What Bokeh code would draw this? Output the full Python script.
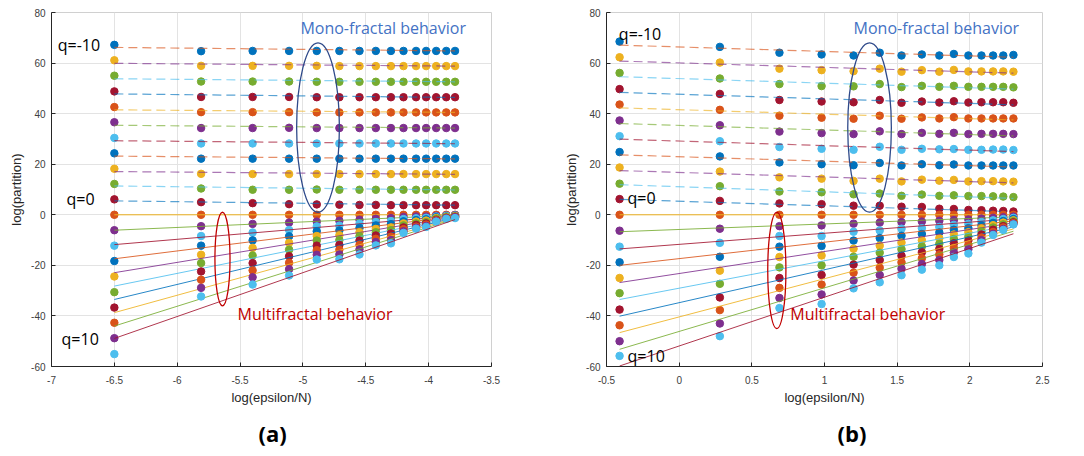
from bokeh.plotting import figure
from bokeh.layouts import row
from bokeh.models import Range1d, FixedTicker, CustomJSTickFormatter, Title
from bokeh.core.properties import value
from bokeh.embed import file_html
from bokeh.resources import INLINE

# ---------------- data ----------------
q_values = list(range(-10, 11))

# panel (a): x positions
xa = [-6.50, -5.81, -5.40, -5.11, -4.89, -4.71, -4.55, -4.42, -4.30, -4.20, -4.10, -4.02, -3.94, -3.86, -3.79]
a_qm10 = [67.2, 64.7, 64.8, 64.8, 64.8, 64.8, 64.8, 64.8, 64.8, 64.8, 64.8, 64.8, 64.8, 64.8, 64.8]
a_qm9 = [61.1, 58.9, 58.9, 58.9, 58.9, 58.8, 58.8, 58.8, 58.8, 58.8, 58.8, 58.8, 58.8, 58.8, 58.8]
a_qm8 = [55.0, 52.7, 52.7, 52.7, 52.6, 52.6, 52.6, 52.6, 52.6, 52.6, 52.6, 52.6, 52.6, 52.6, 52.6]
a_qm7 = [48.8, 46.6, 46.6, 46.6, 46.5, 46.5, 46.5, 46.5, 46.5, 46.5, 46.5, 46.5, 46.5, 46.5, 46.5]
a_qm6 = [42.6, 40.6, 40.6, 40.6, 40.5, 40.5, 40.5, 40.5, 40.5, 40.5, 40.5, 40.5, 40.5, 40.5, 40.5]
a_qm5 = [36.6, 34.3, 34.3, 34.4, 34.3, 34.3, 34.3, 34.3, 34.3, 34.3, 34.3, 34.3, 34.3, 34.3, 34.3]
a_qm4 = [30.4, 28.2, 28.2, 28.2, 28.2, 28.2, 28.2, 28.2, 28.2, 28.2, 28.2, 28.2, 28.2, 28.2, 28.2]
a_qm3 = [24.3, 22.2, 22.2, 22.2, 22.2, 22.2, 22.2, 22.2, 22.2, 22.2, 22.2, 22.2, 22.2, 22.2, 22.2]
a_qm2 = [18.2, 16.2, 16.1, 16.1, 16.1, 16.1, 16.1, 16.1, 16.1, 16.1, 16.1, 16.1, 16.1, 16.1, 16.1]
a_qm1 = [12.2, 10.4, 9.9, 9.9, 10.0, 9.9, 9.9, 9.9, 9.9, 9.9, 9.9, 9.9, 9.9, 9.9, 9.9]
a_q0 = [6.1, 5.0, 4.6, 4.2, 4.1, 4.0, 3.9, 3.9, 3.8, 3.8, 3.8, 3.8, 3.8, 3.8, 3.8]
a_q1 = [0.0, 0.0, 0.0, 0.0, 0.0, 0.0, 0.0, 0.0, 0.0, 0.0, 0.0, 0.0, 0.0, 0.0, 0.0]
a_q2 = [-6.1, -4.5, -3.6, -3.1, -2.7, -2.4, -2.0, -1.6, -1.3, -0.9, -0.7, -0.7, -0.4, -0.3, -0.1]
a_q3 = [-12.2, -8.4, -7.0, -6.0, -4.6, -4.3, -3.5, -2.9, -2.5, -1.7, -1.4, -1.2, -0.7, -0.4, -0.3]
a_q4 = [-18.3, -12.2, -10.1, -8.5, -6.5, -6.2, -5.2, -4.2, -3.7, -2.6, -2.1, -1.8, -1.0, -0.7, -0.4]
a_q5 = [-24.4, -15.8, -13.1, -11.1, -8.4, -8.1, -6.9, -5.6, -5.0, -3.4, -2.7, -2.3, -1.3, -0.8, -0.5]
a_q6 = [-30.6, -19.1, -16.1, -13.8, -10.2, -10.0, -8.5, -6.9, -6.1, -4.2, -3.4, -2.9, -1.6, -1.0, -0.7]
a_q7 = [-36.7, -22.4, -19.1, -16.4, -12.2, -11.9, -10.2, -8.2, -7.4, -5.0, -4.0, -3.4, -2.0, -1.2, -0.8]
a_q8 = [-42.7, -25.7, -22.0, -19.0, -14.0, -13.8, -11.9, -9.5, -8.7, -5.7, -4.7, -3.9, -2.2, -1.3, -0.9]
a_q9 = [-48.8, -28.9, -24.7, -21.5, -15.8, -15.7, -13.7, -10.8, -10.0, -6.5, -5.1, -4.4, -2.5, -1.4, -1.0]
a_q10 = [-55.1, -32.3, -27.6, -24.0, -17.7, -17.6, -15.7, -12.1, -11.3, -7.2, -5.5, -4.8, -2.7, -1.6, -1.3]
# fitted line values at first / last x (panel a)
a_fit_start = [66.2, 59.9, 53.8, 47.8, 41.5, 35.4, 29.3, 23.2, 17.1, 11.4, 5.5, 0.0,
               -6.1, -11.8, -17.4, -22.9, -28.2, -33.5, -38.7, -44.0, -48.9]
a_fit_end = [64.8, 58.8, 52.6, 46.4, 40.5, 34.3, 28.1, 22.1, 16.0, 9.8, 3.8, 0.0,
             -0.2, -0.4, -0.6, -0.8, -1.0, -1.2, -1.4, -1.6, -1.9]

# panel (b): x positions
xb = [-0.41, 0.28, 0.69, 0.98, 1.20, 1.38, 1.53, 1.67, 1.79, 1.89, 1.99, 2.08, 2.16, 2.23, 2.30]
b_qm10 = [68.5, 66.4, 64.1, 63.4, 63.0, 64.1, 63.0, 63.4, 63.0, 63.6, 63.0, 63.0, 63.0, 63.0, 63.2]
b_qm9 = [62.3, 60.2, 57.8, 57.2, 56.8, 57.8, 56.6, 57.2, 56.6, 57.3, 56.7, 56.7, 56.7, 56.7, 56.6]
b_qm8 = [56.1, 53.9, 51.7, 50.9, 50.8, 51.7, 50.5, 51.0, 50.6, 51.0, 50.6, 50.6, 50.6, 50.6, 50.4]
b_qm7 = [49.7, 47.8, 45.4, 44.8, 44.5, 45.4, 44.3, 44.8, 44.4, 44.9, 44.4, 44.5, 44.5, 44.5, 44.3]
b_qm6 = [43.6, 41.5, 39.2, 38.4, 38.0, 39.2, 38.0, 38.5, 38.1, 38.6, 38.1, 38.1, 38.1, 38.1, 38.1]
b_qm5 = [37.3, 35.4, 32.9, 32.3, 31.9, 33.0, 31.9, 32.4, 32.0, 32.4, 31.9, 32.0, 32.0, 32.0, 31.9]
b_qm4 = [31.1, 29.1, 26.8, 26.1, 25.7, 26.9, 25.7, 26.1, 25.9, 26.0, 25.7, 25.7, 25.8, 25.8, 25.6]
b_qm3 = [24.8, 23.1, 20.7, 20.0, 19.6, 20.5, 19.5, 20.0, 19.6, 19.9, 19.5, 19.5, 19.5, 19.5, 19.5]
b_qm2 = [18.7, 17.1, 14.8, 14.3, 13.4, 14.3, 13.2, 13.9, 13.5, 13.8, 13.2, 13.3, 13.3, 13.2, 13.1]
b_qm1 = [12.3, 11.3, 9.2, 8.9, 8.1, 8.4, 7.5, 8.0, 7.5, 7.7, 7.4, 7.4, 7.3, 7.2, 7.0]
b_q0 = [6.2, 5.5, 4.5, 4.2, 3.6, 3.6, 3.2, 3.1, 2.4, 2.3, 1.9, 1.8, 1.6, 1.5, 1.3]
b_q1 = [0.0, 0.0, 0.0, 0.0, 0.0, 0.0, 0.0, 0.0, 0.0, 0.0, 0.0, 0.0, 0.0, 0.0, 0.0]
b_q2 = [-6.3, -5.5, -4.5, -4.2, -3.5, -3.1, -2.9, -2.7, -2.4, -2.1, -1.9, -1.5, -1.2, -1.0, -0.7]
b_q3 = [-12.6, -11.1, -8.4, -8.4, -6.7, -6.2, -5.5, -5.3, -4.8, -4.0, -3.6, -2.9, -2.2, -1.7, -1.2]
b_q4 = [-18.8, -16.6, -12.6, -12.3, -10.2, -9.2, -8.3, -7.6, -7.0, -5.9, -5.3, -4.2, -3.2, -2.5, -1.7]
b_q5 = [-25.0, -22.1, -16.7, -16.1, -13.4, -12.2, -11.0, -10.1, -9.3, -7.8, -6.9, -5.4, -4.1, -3.1, -2.2]
b_q6 = [-31.0, -27.3, -20.8, -20.0, -16.6, -15.0, -13.6, -12.5, -11.5, -9.6, -8.6, -6.6, -5.0, -3.8, -2.6]
b_q7 = [-37.5, -32.7, -25.0, -23.8, -19.7, -17.9, -16.2, -14.8, -13.5, -11.3, -10.2, -7.8, -5.9, -4.5, -3.0]
b_q8 = [-43.7, -37.7, -28.9, -27.6, -22.9, -20.9, -18.8, -17.2, -15.7, -13.1, -11.9, -9.0, -6.8, -5.0, -3.3]
b_q9 = [-50.0, -43.0, -32.9, -31.5, -26.0, -23.8, -21.3, -19.5, -17.9, -14.9, -13.6, -10.0, -7.5, -5.6, -3.6]
b_q10 = [-55.8, -48.0, -36.9, -35.3, -29.1, -26.7, -23.9, -21.7, -20.0, -16.7, -15.3, -11.0, -8.0, -6.0, -3.8]
b_fit_start = [67.1, 60.8, 54.6, 48.4, 42.3, 36.1, 29.9, 23.7, 17.5, 11.9, 6.1, 0.0,
               -6.7, -13.5, -20.0, -26.8, -33.5, -40.1, -46.6, -53.2, -59.8]
b_fit_end = [62.3, 56.0, 49.7, 43.5, 37.5, 31.2, 25.0, 18.9, 12.6, 6.5, 1.2, 0.0,
             -0.8, -1.6, -2.4, -3.2, -4.0, -4.8, -5.6, -6.5, -7.5]

a_ticks_x = [-7, -6.5, -6, -5.5, -5, -4.5, -4, -3.5]
b_ticks_x = [-0.5, 0, 0.5, 1, 1.5, 2, 2.5]
ticks_y = [-60, -40, -20, 0, 20, 40, 60, 80]

a_series = [a_qm10, a_qm9, a_qm8, a_qm7, a_qm6, a_qm5, a_qm4, a_qm3, a_qm2, a_qm1, a_q0,
            a_q1, a_q2, a_q3, a_q4, a_q5, a_q6, a_q7, a_q8, a_q9, a_q10]
b_series = [b_qm10, b_qm9, b_qm8, b_qm7, b_qm6, b_qm5, b_qm4, b_qm3, b_qm2, b_qm1, b_q0,
            b_q1, b_q2, b_q3, b_q4, b_q5, b_q6, b_q7, b_q8, b_q9, b_q10]

# MATLAB default color order
COLORS = ["#0072BD", "#D95319", "#EDB120", "#7E2F8E", "#77AC30", "#4DBEEE", "#A2142F"]
TXT = "Liberation Sans"
ANN = "Open Sans"


def make_panel(xs, series, fit_start, fit_end, xr, xticks, border_l, border_r, frame_w, caption,
               cap_offset, ell_blue, ell_red, mono_xy, multi_xy, qlabels):
    p = figure(width=border_l + border_r + frame_w, height=456,
               x_range=Range1d(*xr), y_range=Range1d(-60, 80),
               output_backend="svg", toolbar_location=None,
               min_border_left=border_l, min_border_right=border_r,
               min_border_top=12, min_border_bottom=86)
    p.background_fill_color = "white"
    p.border_fill_color = "white"
    p.outline_line_color = "#d0d0d0"
    p.outline_line_width = 1
    for ax in (p.xaxis[0], p.yaxis[0]):
        ax.axis_line_color = "#262626"
        ax.major_tick_line_color = "#262626"
        ax.major_tick_in = 4
        ax.major_tick_out = 0
        ax.minor_tick_line_color = None
        ax.major_label_text_font = TXT
        ax.major_label_text_font_size = "10px"
        ax.major_label_text_color = "#404040"
        ax.axis_label_text_font = TXT
        ax.axis_label_text_font_size = "13px"
        ax.axis_label_text_font_style = "normal"
        ax.axis_label_text_color = "#262626"
        ax.formatter = CustomJSTickFormatter(code="return String(tick);")
    p.xaxis.ticker = FixedTicker(ticks=xticks)
    p.yaxis.ticker = FixedTicker(ticks=ticks_y)
    p.xaxis.axis_label = "log(epsilon/N)"
    p.yaxis.axis_label = "log(partition)"
    p.xaxis.major_label_standoff = 9
    p.xaxis.axis_label_standoff = 3
    p.yaxis.major_label_standoff = 6
    p.yaxis.axis_label_standoff = 4
    p.grid.grid_line_color = "#e3e3e3"
    p.grid.grid_line_width = 1

    x0, x1 = xs[0], xs[-1]
    for i, (q, ys) in enumerate(zip(q_values, series)):
        pc = COLORS[(2 * i) % 7]
        lc = COLORS[(2 * i + 1) % 7]
        p.scatter(xs, ys, size=7.5, fill_color=pc, line_color=pc, marker="circle")
        if q < 1:
            p.line([x0, x1], [fit_start[i], fit_end[i]], line_color=lc, line_width=1.2,
                   line_alpha=0.65, line_dash="9 5")
        else:
            p.line([x0, x1], [fit_start[i], fit_end[i]], line_color=lc, line_width=1,
                   line_alpha=0.85 if q > 1 else 1.0)

    p.ellipse(x=[ell_blue[0]], y=[ell_blue[1]], width=[ell_blue[2]], height=[ell_blue[3]],
              fill_alpha=0, line_color="#2F4A8A", line_width=1.3)
    p.ellipse(x=[ell_red[0]], y=[ell_red[1]], width=[ell_red[2]], height=[ell_red[3]],
              fill_alpha=0, line_color="#C00000", line_width=1.3)

    p.text(x=[mono_xy[0]], y=[mono_xy[1]], text=["Mono-fractal behavior"],
           text_font=value(ANN), text_font_size="16px", text_color="#4472C4",
           text_baseline="middle", text_align="left")
    p.text(x=[multi_xy[0]], y=[multi_xy[1]], text=["Multifractal behavior"],
           text_font=value(ANN), text_font_size="16px", text_color="#C00000",
           text_baseline="middle", text_align="left")
    for (tx, ty, tt) in qlabels:
        p.text(x=[tx], y=[ty], text=[tt], text_font=value(ANN), text_font_size="16px",
               text_color="black", text_baseline="middle", text_align="left")

    t = Title(text=caption, align="left", offset=cap_offset, text_font=ANN,
              text_font_size="22px", text_font_style="bold", text_color="black", standoff=17)
    p.add_layout(t, "below")
    return p


pa = make_panel(xa, a_series, a_fit_start, a_fit_end, (-7, -3.5), a_ticks_x, 51, 49, 440, "(a)", 207,
                (-4.88, 34.5, 0.34, 67), (-5.64, -17.5, 0.12, 37), (-5.02, 73.8), (-5.52, -39.4),
                [(-6.95, 67.3, "q=-10"), (-6.88, 6.3, "q=0"), (-6.92, -49.0, "q=10")])
pb = make_panel(xb, b_series, b_fit_start, b_fit_end, (-0.5, 2.5), b_ticks_x, 66, 42, 436, "(b)", 231,
                (1.31, 34.5, 0.30, 67), (0.672, -22.0, 0.125, 46), (1.20, 73.8), (0.765, -39.4),
                [(-0.415, 71.6, "q=-10"), (-0.355, 6.7, "q=0"), (-0.355, -55.9, "q=10")])

layout = row(pa, pb, spacing=0)
open("out.html", "w").write(file_html(layout, INLINE))
